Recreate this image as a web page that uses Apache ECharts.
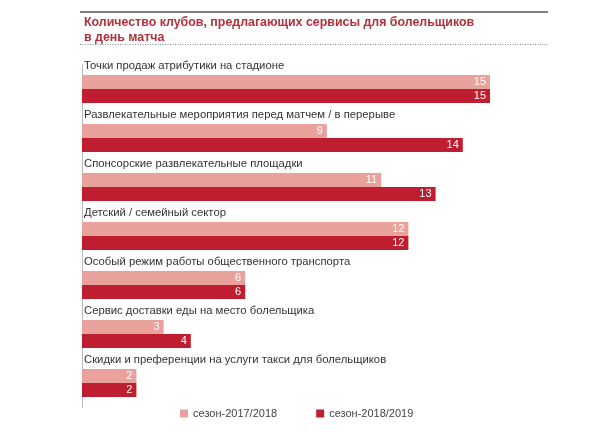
<!DOCTYPE html>
<html>
<head>
<meta charset="utf-8">
<script src="https://cdn.jsdelivr.net/npm/echarts@6/dist/echarts.min.js"></script>
<style>html,body{margin:0;padding:0;background:#fff}#c{width:600px;height:432px}</style>
</head>
<body>
<div id="c"></div>
<script>
const categories = [
  'Точки продаж атрибутики на стадионе',
  'Развлекательные мероприятия перед матчем / в перерыве',
  'Спонсорские развлекательные площадки',
  'Детский / семейный сектор',
  'Особый режим работы общественного транспорта',
  'Сервис доставки еды на место болельщика',
  'Скидки и преференции на услуги такси для болельщиков'
];
const season2017 = [15, 9, 11, 12, 6, 3, 2];
const season2018 = [15, 14, 13, 12, 6, 4, 2];
const seriesNames = ['сезон-2017/2018', 'сезон-2018/2019'];
const titleText = 'Количество клубов, предлагающих сервисы для болельщиков\nв день матча';

const chart = echarts.init(document.getElementById('c'), null, {renderer: 'canvas'});
const font = 'Liberation Sans, Arial, Helvetica, sans-serif';
const valueLabel = {
  show: true, position: 'insideRight', distance: 4,
  color: '#fff', fontSize: 11, fontFamily: font
};
chart.setOption({
  animation: false,
  textStyle: {fontFamily: font},
  title: {
    text: titleText,
    left: 79, top: 10,
    textStyle: {color: '#b3303c', fontSize: 12.4, fontWeight: 'bold', lineHeight: 15, fontFamily: font}
  },
  graphic: [
    {type: 'line', shape: {x1: 80, y1: 12, x2: 548, y2: 12}, style: {stroke: '#555', lineWidth: 1.5}},
    {type: 'line', shape: {x1: 80, y1: 44.5, x2: 548, y2: 44.5}, style: {stroke: '#888', lineWidth: 1, lineDash: [1, 1.5]}}
  ],
  legend: {
    data: seriesNames,
    left: 175, top: 403,
    itemWidth: 8, itemHeight: 8, itemGap: 39,
    icon: 'rect',
    textStyle: {color: '#444', fontSize: 11, fontFamily: font}
  },
  grid: {left: 82, top: 64.5, width: 408, height: 343, containLabel: false},
  xAxis: {
    type: 'value', min: 0, max: 15,
    show: false
  },
  yAxis: {
    type: 'category', data: categories, inverse: true,
    axisLine: {show: true, lineStyle: {color: '#bbb', width: 1}},
    axisTick: {show: false},
    axisLabel: {
      inside: true, margin: 2, align: 'left', verticalAlign: 'middle',
      interval: 0, showMinLabel: true, showMaxLabel: true, hideOverlap: false,
      formatter: function (v) { return v + '\n '; },
      lineHeight: 46,
      color: '#333', fontSize: 11.3, fontFamily: font
    }
  },
  series: [
    {name: seriesNames[0], type: 'bar', data: season2017, barWidth: 14, barGap: '0%',
     itemStyle: {color: '#e8a19b'}, label: valueLabel},
    {name: seriesNames[1], type: 'bar', data: season2018, barWidth: 14, barGap: '0%',
     itemStyle: {color: '#be1e2f'}, label: valueLabel}
  ]
});
</script>
</body>
</html>
